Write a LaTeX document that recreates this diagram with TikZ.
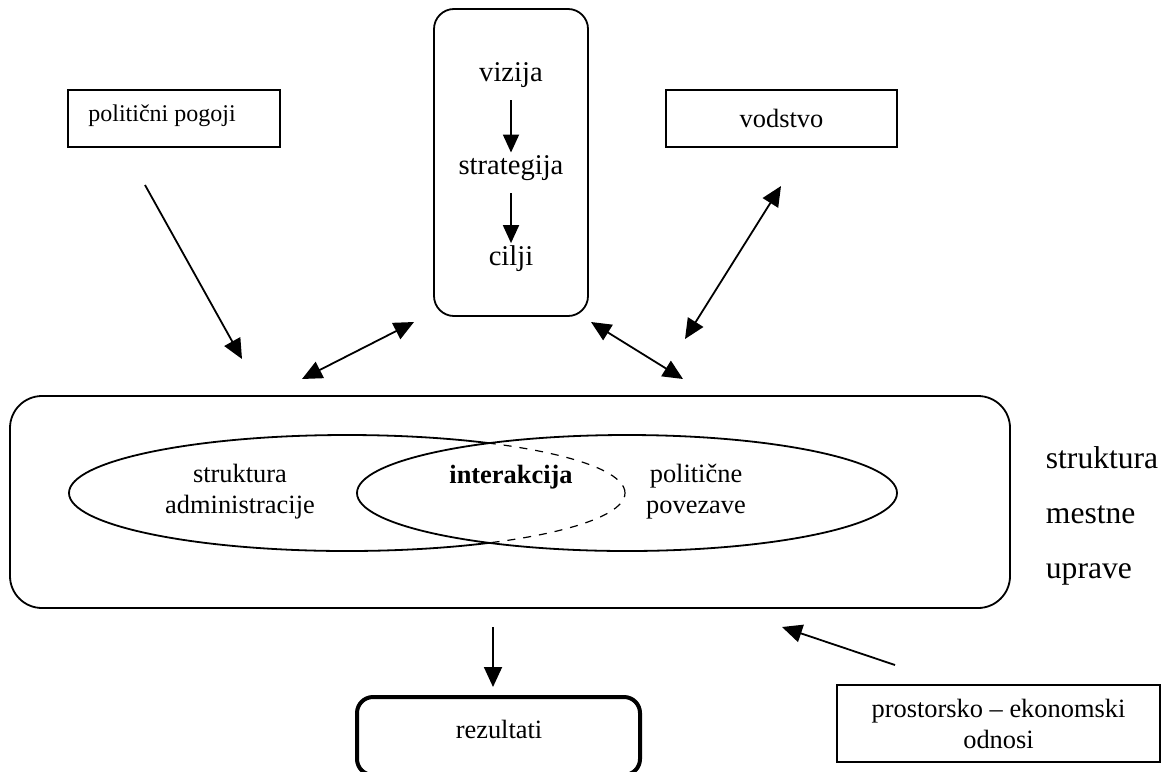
\documentclass[tikz,border=0pt]{standalone}
\usepackage{fontspec}
\setmainfont{Liberation Serif}
\usetikzlibrary{arrows.meta,positioning}

\begin{document}
\begin{tikzpicture}[x=0.5pt,y=-0.5pt,line width=0.9pt,
  >={Triangle[length=10pt,width=9pt]},
  every node/.style={font=\fontsize{13.2}{15.5}\selectfont},
  plain box/.style={draw,rectangle,inner sep=0pt},
  round box/.style={draw,rectangle,rounded corners=10pt,inner sep=0pt},
  label text/.style={align=center,inner sep=1pt},
  plan text/.style={label text,font=\fontsize{14.3}{15.5}\selectfont}]

  \clip (0,0) rectangle (1170,771);

  % boxes
  \node[plain box, minimum width=106pt, minimum height=28.5pt] (pogoji) at (174,118.5) {};
  \node[label text, font=\fontsize{12}{14}\selectfont] at (162,116) {politični pogoji};
  \node[plain box, minimum width=115.5pt, minimum height=28.5pt] (vodstvo) at (781.5,118.5) {vodstvo};
  \node[round box, minimum width=77pt, minimum height=153.5pt] (vizbox) at (511,162.5) {};
  \node[plan text] (vizija) at (511,75) {vizija};
  \node[plan text] (strategija) at (511,168) {strategija};
  \node[plan text] (cilji) at (511,259) {cilji};
  \node[round box, rounded corners=16pt, minimum width=500pt, minimum height=106pt] (uprava) at (510,502) {};
  \node[round box, rounded corners=8pt, line width=2pt, minimum width=141.5pt, minimum height=39pt] (rezultati) at (498.5,736) {};
  \node[label text] at (499,729) {rezultati};
  \node[plain box, label text, inner sep=0pt, minimum width=161.5pt, minimum height=38.5pt] (odnosi) at (998.5,723.5) {prostorsko -- ekonomski\\odnosi};

  % ellipses
  \coordinate (admin) at (347,493);
  \coordinate (povez) at (627,493);
  \draw (admin) ellipse [x radius=139pt, y radius=29pt];
  \fill[white] (povez) ellipse [x radius=135pt, y radius=29pt];
  \begin{scope}
    \clip (povez) ellipse [x radius=135pt, y radius=29pt];
    \draw[dash pattern=on 4pt off 4pt, line width=0.6pt] (admin) ellipse [x radius=139pt, y radius=29pt];
  \end{scope}
  \draw (povez) ellipse [x radius=135pt, y radius=29pt];

  \node[label text] at (240,492) {struktura\\administracije};
  \node[label text, font=\fontsize{13.2}{15.5}\selectfont\bfseries] at (511,477) {interakcija};
  \node[label text] at (696,492) {politične\\povezave};
  \node[align=left, anchor=west, inner sep=0pt, font=\fontsize{15.8}{27.5}\selectfont] (mestna) at (1045,516) {struktura\\mestne\\uprave};

  % arrow ends
  \coordinate (pp1) at (145,185);   \coordinate (pp2) at (242,359);
  \coordinate (vl1) at (302,379);   \coordinate (vl2) at (414,322);
  \coordinate (vr1) at (591,322);   \coordinate (vr2) at (683,379);
  \coordinate (vo1) at (781,186);   \coordinate (vo2) at (685,339);
  \coordinate (re1) at (493,627);   \coordinate (re2) at (493,687);
  \coordinate (od1) at (895,665);   \coordinate (od2) at (782,627);

  \path[->, >={Triangle[length=9pt,width=8pt]}, shorten <=5pt]
    (vizija) edge (strategija)
    (strategija) edge (cilji);

  \path[->]
    (pp1) edge (pp2)
    (re1) edge (re2)
    (od1) edge (od2);
  \path[<->]
    (vl1) edge (vl2)
    (vr1) edge (vr2)
    (vo1) edge (vo2);
\end{tikzpicture}
\end{document}
